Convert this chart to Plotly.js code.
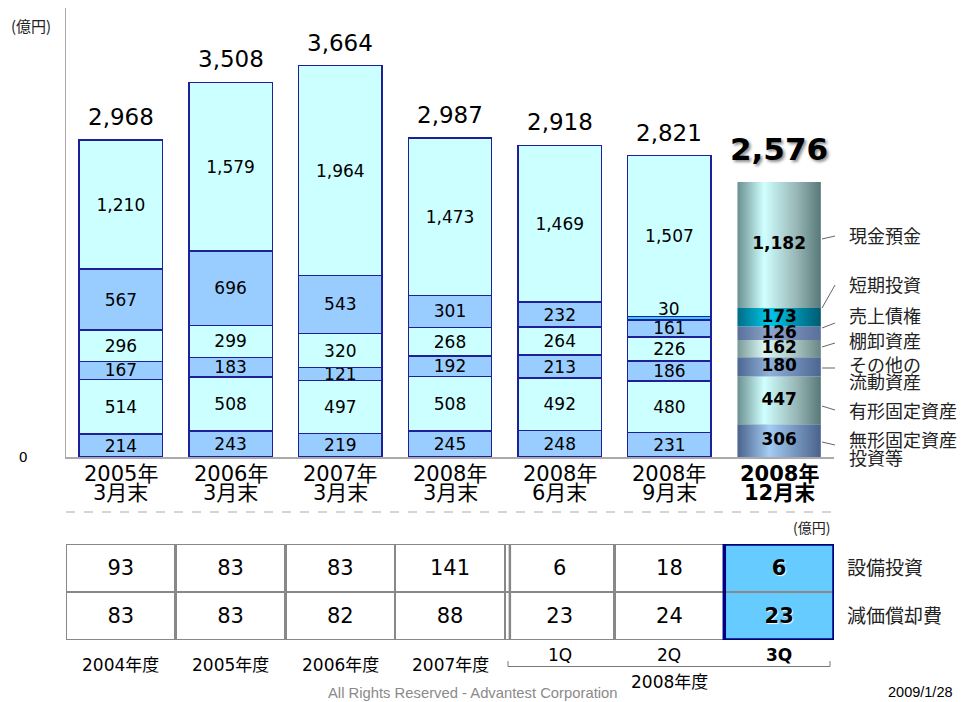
<!DOCTYPE html>
<html><head><meta charset="utf-8">
<script src="https://cdn.plot.ly/plotly-3.0.1.min.js"></script>
<style>html,body{margin:0;padding:0;background:#fff}</style>
</head><body><div id="chart" style="width:965px;height:702px"></div>
<script>
// ---------- data ----------
const catYear = ['2005年','2006年','2007年','2008年','2008年','2008年','2008年'];
const catMonth = ['3月末','3月末','3月末','3月末','6月末','9月末','12月末'];
const intangible   = [214,243,219,245,248,231,306];   // 無形固定資産・投資等
const tangible     = [514,508,497,508,492,480,447];   // 有形固定資産
const otherCurrent = [167,183,121,192,213,186,180];   // その他の流動資産
const inventory    = [296,299,320,268,264,226,162];   // 棚卸資産
const receivables  = [567,696,543,301,232,161,126];   // 売上債権
const shortTerm    = [0,0,0,0,0,30,173];              // 短期投資
const cash         = [1210,1579,1964,1473,1469,1507,1182]; // 現金預金
const totals       = [2968,3508,3664,2987,2918,2821,2576];
const seriesNames  = ['無形固定資産<br>投資等','有形固定資産','その他の<br>流動資産','棚卸資産','売上債権','短期投資','現金預金'];
const capex        = [93,83,83,141,6,18,6];     // 設備投資
const depreciation = [83,83,82,88,23,24,23];    // 減価償却費
const tablePeriods = ['2004年度','2005年度','2006年度','2007年度','1Q','2Q','3Q'];
const tableRows    = ['減価償却費','設備投資'];
const fiscalLabel  = '2008年度';

// ---------- styling ----------
const W = 965, H = 702;
const px = x => x / W, py = y => 1 - y / H;
const NUM = 'DejaVu Sans, Noto Sans CJK JP, sans-serif';
const CJK = 'Noto Sans CJK JP, sans-serif';
const series = [intangible, tangible, otherCurrent, inventory, receivables, shortTerm, cash];
const baseColors = ['#99CCFF','#CCFFFF','#99CCFF','#CCFFFF','#99CCFF','#33CCFF','#CCFFFF'];
const gradScales = [
  [[0,'#4a628c'],[0.38,'#a4ccf4'],[1,'#4a628c']],
  [[0,'#6a9090'],[0.32,'#d0ffff'],[0.7,'#9ab8b8'],[1,'#587878']],
  [[0,'#4c6690'],[0.38,'#90b2da'],[1,'#4c6690']],
  [[0,'#789898'],[0.32,'#daf8f2'],[0.7,'#a8c4c0'],[1,'#688686']],
  [[0,'#58709a'],[0.38,'#8ea6cc'],[1,'#58709a']],
  [[0,'#006c86'],[0.38,'#00c8ea'],[1,'#005a72']],
  [[0,'#6a9090'],[0.32,'#d0ffff'],[0.7,'#9ab8b8'],[1,'#587878']]
];
const last = totals.length - 1;
const BW = 0.76;
const fmt = v => v.toLocaleString('en-US');
const idx = catYear.map((_, i) => i);

const traces = [];
// stacked bars (last bar drawn as gradient fills below)
series.forEach((vals, k) => {
  traces.push({
    type: 'bar', x: idx, y: vals, width: BW,
    marker: {
      color: vals.map((v, i) => i === last ? 'rgba(0,0,0,0)' : baseColors[k]),
      line: {color: '#1f1f99', width: vals.map((v, i) => (i === last || v === 0) ? 0 : 1.5)}
    },
    text: vals.map((v, i) => (i === last || v < 60) ? '' : fmt(v)),
    textposition: 'inside', insidetextanchor: 'middle', constraintext: 'none',
    insidetextfont: {family: NUM, size: 17, color: '#000'},
    hoverinfo: 'skip', showlegend: false, xaxis: 'x', yaxis: 'y'
  });
});
// gradient cylinder for the latest bar
let cum = 0;
const midLast = [];
series.forEach((vals, k) => {
  const b = cum, t = cum + vals[last];
  cum = t;
  midLast.push((b + t) / 2);
  traces.push({
    type: 'scatter', mode: 'none', fill: 'toself',
    x: [last - BW/2, last + BW/2, last + BW/2, last - BW/2, last - BW/2],
    y: [b, b, t, t, b],
    fillcolor: baseColors[k],
    fillgradient: {type: 'horizontal', colorscale: gradScales[k]},
    hoverinfo: 'skip', showlegend: false, xaxis: 'x', yaxis: 'y'
  });
});
traces.push({
  type: 'scatter', mode: 'text', x: series.map(() => last), y: midLast,
  text: series.map(v => '<b>' + fmt(v[last]) + '</b>'),
  textfont: {family: NUM, size: 17, color: '#000'},
  hoverinfo: 'skip', showlegend: false, xaxis: 'x', yaxis: 'y'
});
// table rows as full-width bars
[depreciation, capex].forEach(vals => {
  traces.push({
    type: 'bar', x: idx, y: vals.map(() => 1), width: 1,
    marker: {color: vals.map((v, i) => i === last ? '#66CCFF' : '#ffffff'),
             line: {color: '#888888', width: 2.5}},
    text: vals.map((v, i) => i === last ? '<b>' + v + '</b>' : String(v)),
    texttemplate: '%{text}',
    textposition: 'inside', insidetextanchor: 'middle', constraintext: 'none',
    insidetextfont: {family: NUM, size: 21, color: '#000', shadow: '1px 1px 1px #ffffff'},
    hoverinfo: 'skip', showlegend: false, xaxis: 'x', yaxis: 'y2'
  });
});

// ---------- annotations ----------
const ann = [];
const A = o => ann.push(Object.assign({showarrow: false, xanchor: 'center', yanchor: 'middle'}, o));
// totals
totals.forEach((t, i) => {
  if (i === last) {
    A({x: i, y: t, xref: 'x', yref: 'y', text: '<b>' + fmt(t) + '</b>', yshift: 33,
      font: {family: NUM, size: 31, color: '#000', shadow: '2px 2px 3px rgba(0,0,0,0.45)'}});
  } else {
    A({x: i, y: t, xref: 'x', yref: 'y', text: fmt(t), yshift: 23,
      font: {family: NUM, size: 23, color: '#000'}});
  }
});
// small short-term label above its thin segment
shortTerm.forEach((v, i) => {
  if (i !== last && v > 0) {
    let top = 0; for (let k = 0; k <= 5; k++) top += series[k][i];
    A({x: i, y: top, xref: 'x', yref: 'y', text: fmt(v), yshift: 8,
      font: {family: NUM, size: 17, color: '#000'}});
  }
});
// category labels (two lines)
idx.forEach(i => {
  const b = i === last;
  A({x: i, y: py(473.5), xref: 'x', yref: 'paper',
    text: b ? '<b>' + catYear[i] + '</b>' : catYear[i], font: {family: NUM, size: 21, color: '#000'}});
  A({x: i, y: py(492.5), xref: 'x', yref: 'paper',
    text: b ? '<b>' + catMonth[i] + '</b>' : catMonth[i], font: {family: NUM, size: 21, color: '#000'}});
});
// right side series labels
const labelY = [[439, 457], [410], [364, 381], [340], [315], [283.5], [235.5]];
seriesNames.forEach((n, k) => {
  n.split('<br>').forEach((line, j) => {
    A({x: px(847), y: py(labelY[k][j]), xref: 'paper', yref: 'paper', xanchor: 'left',
      text: line, font: {family: CJK, size: 18, color: '#222'}});
  });
});
// table period labels
tablePeriods.forEach((p, i) => {
  const q = i >= 4;
  A({x: i, y: py(q ? 655 : 665), xref: 'x', yref: 'paper',
    text: i === last ? '<b>' + p + '</b>' : p, font: {family: NUM, size: 17, color: '#000'}});
});
A({x: 5, y: py(682), xref: 'x', yref: 'paper', text: fiscalLabel,
  font: {family: NUM, size: 17, color: '#000'}});
// units, footer
A({x: px(31), y: py(25), xref: 'paper', yref: 'paper', text: '(億円)',
  font: {family: CJK, size: 15, color: '#222'}});
A({x: px(811), y: py(527), xref: 'paper', yref: 'paper', text: '(億円)',
  font: {family: CJK, size: 14, color: '#222'}});
A({x: px(473), y: py(693), xref: 'paper', yref: 'paper',
  text: 'All Rights Reserved - Advantest Corporation', font: {family: 'Liberation Sans, Arial', size: 14.8, color: '#8a8a8a'}});
A({x: px(955), y: py(692), xref: 'paper', yref: 'paper', xanchor: 'right',
  text: '2009/1/28', font: {family: 'Liberation Sans, Arial', size: 14.5, color: '#000'}});

// ---------- shapes ----------
const shapes = [];
const leaders = [[822,442,835,445],[822,406,835,410],[822,368,835,368],[822,347,835,343],[822,328,835,323],[822,308,835,285],[822,239,835,236]];
leaders.forEach(l => shapes.push({type: 'line', xref: 'paper', yref: 'paper',
  x0: px(l[0]), y0: py(l[1]), x1: px(l[2]), y1: py(l[3]), line: {color: '#666', width: 1}}));
shapes.push({type: 'line', xref: 'paper', yref: 'paper', x0: px(66), x1: px(832), y0: py(512), y1: py(512),
  line: {color: '#aaaaaa', width: 1.2, dash: 'dash'}});
// double separator between fiscal years and quarters
shapes.push({type: 'line', xref: 'x', yref: 'y2', x0: 3.5 + 5/109.7, x1: 3.5 + 5/109.7, y0: 0, y1: 2,
  line: {color: '#888888', width: 2.5}});
// highlight frame of latest quarter
shapes.push({type: 'rect', xref: 'x', yref: 'y2', x0: last - 0.5, x1: last + 0.5, y0: 0, y1: 2,
  line: {color: '#000080', width: 3.5}});
// bracket under quarters
shapes.push({type: 'path', xref: 'paper', yref: 'paper',
  path: `M ${px(508)} ${py(661)} L ${px(508)} ${py(666.5)} L ${px(830)} ${py(666.5)} L ${px(830)} ${py(661)}`,
  line: {color: '#777', width: 1}});

const layout = {
  width: W, height: H, margin: {l: 0, r: 0, t: 0, b: 0},
  paper_bgcolor: '#fff', plot_bgcolor: 'rgba(0,0,0,0)',
  barmode: 'stack', bargap: 0, hovermode: false, showlegend: false,
  xaxis: {domain: [px(66), px(834)], range: [-0.5, 6.5], type: 'linear', anchor: 'y',
    showgrid: false, zeroline: false, showticklabels: false, ticks: '',
    showline: true, linecolor: '#aaaaaa', linewidth: 2, fixedrange: true},
  yaxis: {domain: [py(457), py(8)], range: [0, 4204], showgrid: false, zeroline: false,
    showline: true, linecolor: '#aaaaaa', linewidth: 1.5, ticks: '',
    tickvals: [0], ticktext: ['0'], ticklabelstandoff: 34,
    tickfont: {family: NUM, size: 14, color: '#000'}, fixedrange: true},
  yaxis2: {domain: [py(640), py(544)], range: [0, 2], anchor: 'x', side: 'right',
    showgrid: false, zeroline: false, showline: false, ticks: '',
    tickvals: [0.5, 1.5], ticktext: tableRows, ticklabelstandoff: 12,
    tickfont: {family: CJK, size: 19, color: '#222'}, fixedrange: true},
  annotations: ann, shapes: shapes,
  font: {family: NUM}
};
Plotly.newPlot('chart', traces, layout, {staticPlot: true, displayModeBar: false});
</script></body></html>
